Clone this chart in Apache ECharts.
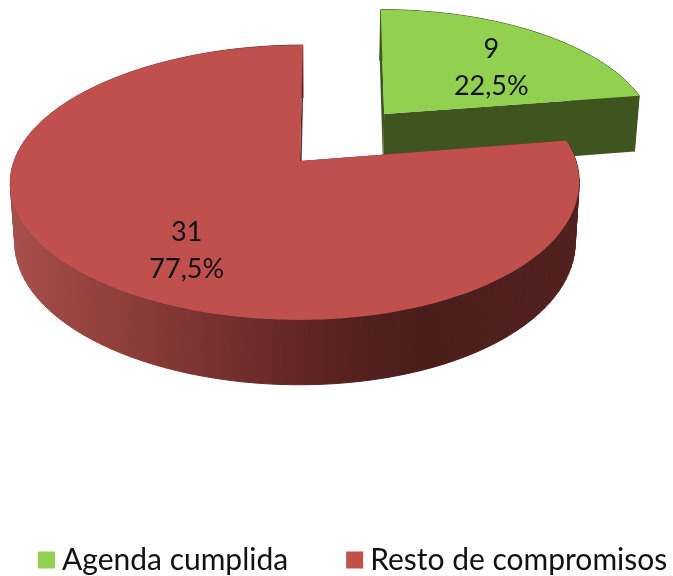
<!DOCTYPE html>
<html><head><meta charset="utf-8">
<style>html,body{margin:0;padding:0;background:#fff}#c{width:673px;height:576px}</style>
<script src="https://cdn.jsdelivr.net/npm/echarts@6/dist/echarts.min.js"></script>
</head><body><div id="c"></div>
<script>
const categories = ["Agenda cumplida", "Resto de compromisos"];
const values = [9, 31];
const percentLabels = ["22,5%", "77,5%"];

const topColors = ["#92d050", "#bf504d"];
const radialWall = ["#3e5520", "#5a2422"];
const centers = [[0.249, 0.371], [-0.064, 0]];
const labelR = [0.6, 0.707], labelTurn = [7, -10];
const P = {ox: 318, oy: 161, A: 281, B: 134, k: 0.156, skew: 0.022, rimShift: [0, -5],
           H: 59, Hs: -6, vx: 318, bottomScale: 0.985};

const total = values.reduce((a, b) => a + b, 0);
function sectorRange(i) {
  let s = 0; for (let j = 0; j < i; j++) s += values[j];
  return [s / total * 2 * Math.PI, (s + values[i]) / total * 2 * Math.PI];
}
function proj(X, Y) {
  const w = 1 + P.k * Y;
  return [P.ox + P.A * X / w, P.oy - P.B * Y / w, Y];
}
function apex(i) { return proj(centers[i][0], centers[i][1]); }
function rim(i, t) {
  const u = Math.sin(t), v = Math.cos(t);
  const p = proj(centers[i][0] + u + P.skew * v * v, centers[i][1] + v);
  p[0] += P.rimShift[i];
  return p;
}
function down(p) {
  return [P.vx + (p[0] - P.vx) * P.bottomScale, p[1] + P.H + P.Hs * p[2]];
}
function wallGradient(i) {
  if (i === 0) return radialWall[0];
  return new echarts.graphic.LinearGradient(10, 0, 580, 0, [
    {offset: 0, color: "#a84f4c"}, {offset: 0.16, color: "#93413e"},
    {offset: 0.33, color: "#7c3331"}, {offset: 0.56, color: "#5a2321"},
    {offset: 0.72, color: "#4a1d1b"}, {offset: 1, color: "#512120"}], true);
}
function renderSector(i, params, api) {
  const val = api.value(0);
  const [a0] = sectorRange(i);
  const a1 = a0 + val / total * 2 * Math.PI;
  const N = 120, arc = [];
  for (let n = 0; n <= N; n++) arc.push(rim(i, a0 + (a1 - a0) * n / N));
  const c = apex(i);
  const poly = (pts, fill, stroke) => ({type: "polygon", shape: {points: pts.map(p => [p[0], p[1]])},
    style: {fill: fill, stroke: stroke || null, lineWidth: stroke ? 1 : 0}, silent: true});
  const grad = wallGradient(i);
  const outer = [];
  for (let n = 0; n < N; n++) {
    outer.push(poly([arc[n], arc[n + 1], down(arc[n + 1]), down(arc[n])], grad, grad));
  }
  const wallA = poly([c, arc[0], down(arc[0]), down(c)], radialWall[i]);
  const wallB = poly([c, arc[N], down(arc[N]), down(c)], radialWall[i]);
  const top = poly([c].concat(arc), topColors[i]);
  const mid = (a0 + a1) / 2 + labelTurn[i] * Math.PI / 180;
  const lp = proj(centers[i][0] + labelR[i] * Math.sin(mid), centers[i][1] + labelR[i] * Math.cos(mid));
  const label = {type: "text", x: lp[0], y: lp[1], silent: true,
    style: {text: val + "\n" + percentLabels[i], fill: "#111", align: "center", verticalAlign: "middle",
            fontFamily: "Lato", fontSize: 27, lineHeight: 37}};
  return {type: "group", children: outer.concat([wallA, wallB, top, label])};
}
const chart = echarts.init(document.getElementById("c"), null, {renderer: "canvas"});
chart.setOption({
  animation: false,
  backgroundColor: "#fff",
  legend: {
    data: categories, left: 33, top: 540, icon: "rect", itemWidth: 17, itemHeight: 17, itemGap: 58,
    selectedMode: false,
    textStyle: {fontFamily: "Lato", fontSize: 30, color: "#111", padding: [0, 0, 0, 2]}
  },
  series: categories.map((name, i) => ({
    name, type: "custom", coordinateSystem: "none", z: i + 1, silent: true,
    itemStyle: {color: topColors[i]}, data: [[values[i]]],
    renderItem: (params, api) => renderSector(i, params, api)
  }))
});
</script></body></html>
